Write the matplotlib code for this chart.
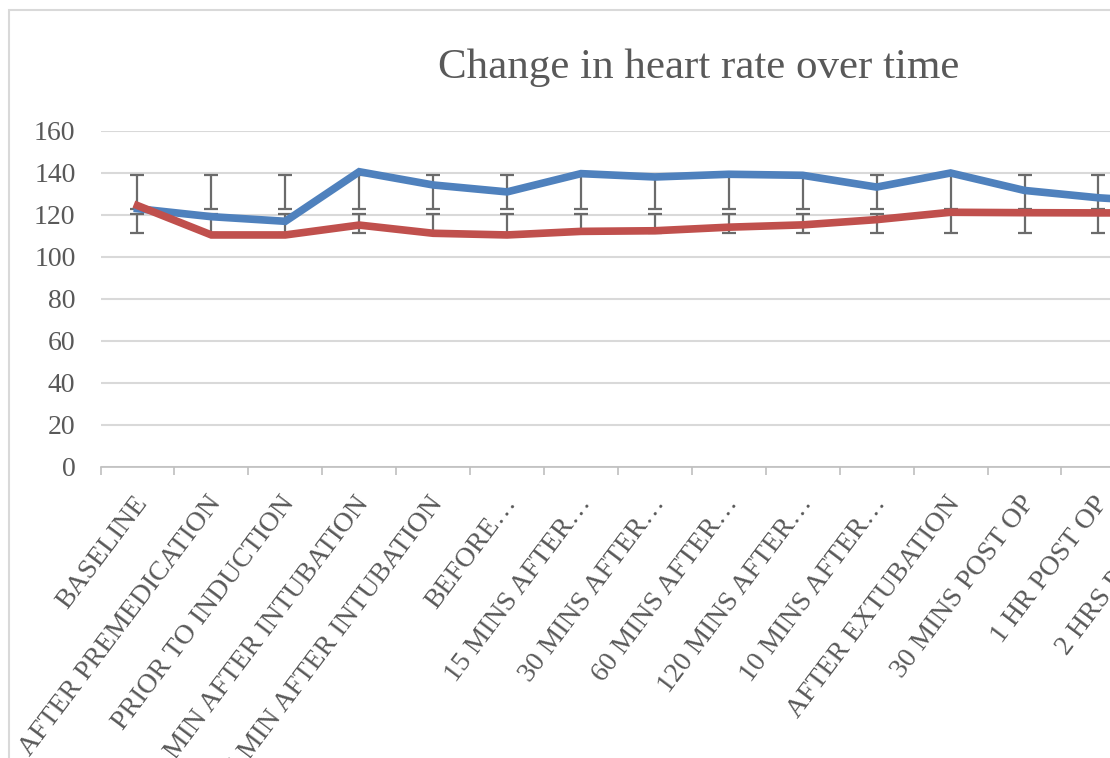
import numpy as np
import matplotlib
matplotlib.use("Agg")
import matplotlib.pyplot as plt
from matplotlib.patches import Rectangle
from matplotlib.transforms import ScaledTranslation

# time points (the original chart runs on past the right edge)
labels = ["BASELINE", "AFTER PREMEDICATION", "PRIOR TO INDUCTION",
          "1 MIN AFTER INTUBATION", "5 MIN AFTER INTUBATION", "BEFORE…",
          "15 MINS AFTER…", "30 MINS AFTER…", "60 MINS AFTER…",
          "120 MINS AFTER…", "10 MINS AFTER…", "AFTER EXTUBATION",
          "30 MINS POST OP", "1 HR POST OP", "2 HRS POST OP"]

blue_hr = [123, 119.2, 117, 140.6, 134.3, 131, 139.7, 138.1, 139.4,
           138.9, 133.3, 140, 131.7, 128.2, 126]
red_hr = [124.5, 110.5, 110.5, 115.2, 111.3, 110.5, 112.2, 112.5, 114.2,
          115.3, 117.8, 121.3, 121.1, 121, 121]

# Excel-style SD error bars drawn around the series mean
blue_err_mid, blue_err = 131.1, 8.1
red_err_mid, red_err = 116.1, 4.5

yticks = [0, 20, 40, 60, 80, 100, 120, 140, 160]

W, H = 1110, 758
fig = plt.figure(figsize=(W / 100, H / 100), dpi=100)

n = len(labels)
step = 73.92
left = 100.5
ax = fig.add_axes([left / W, (H - 467) / H, n * step / W, 336 / H])

x = np.arange(n)
grey = "#595959"

ax.errorbar(x, [blue_err_mid] * n, yerr=blue_err, fmt="none", ecolor="#6b6b6b",
            elinewidth=1.6, capsize=5, capthick=1.6, zorder=2)
ax.errorbar(x, [red_err_mid] * n, yerr=red_err, fmt="none", ecolor="#6b6b6b",
            elinewidth=1.6, capsize=5, capthick=1.6, zorder=2)
ax.plot(x, blue_hr, color="#4f81bd", lw=5.5, zorder=3, solid_joinstyle="miter")
ax.plot(x, red_hr, color="#c0504d", lw=5.5, zorder=4, solid_joinstyle="miter")

ax.set_xlim(-0.5, n - 0.5)
ax.set_ylim(0, 160)
ax.set_yticks(yticks)
ax.set_yticklabels([str(v) for v in yticks])
ax.grid(axis="y", color="#d9d9d9", lw=1.5, zorder=0)
ax.set_axisbelow(True)

ax.set_xticks(x)
ax.set_xticklabels(labels, rotation=53, ha="right", va="center",
                   rotation_mode="anchor")
ax.set_xticks(np.arange(n + 1) - 0.5, minor=True)
ax.tick_params(axis="x", which="major", length=0, pad=23, labelsize=20,
               labelcolor=grey)
ax.tick_params(axis="x", which="minor", length=6, width=1.2, color="#bfbfbf",
               direction="out")
ax.tick_params(axis="y", length=0, pad=18, labelsize=20, labelcolor=grey)

shift = ScaledTranslation(5 / 100, 0, fig.dpi_scale_trans)
for lab in ax.get_xticklabels():
    lab.set_family("Liberation Serif")
    lab.set_transform(lab.get_transform() + shift)
for lab in ax.get_yticklabels():
    lab.set_family("Liberation Serif")

for s in ["top", "right", "left"]:
    ax.spines[s].set_visible(False)
ax.spines["bottom"].set_color("#bfbfbf")
ax.spines["bottom"].set_linewidth(1.2)

fig.text(699 / W, 1 - 78 / H, "Change in heart rate over time", ha="center",
         va="baseline", fontsize=31, color=grey, family="Liberation Serif")

# chart area border
fig.patches.append(Rectangle((9 / W, -0.1), 2, 1 - 10 / H + 0.1,
                             transform=fig.transFigure, fill=False,
                             ec="#d9d9d9", lw=1.5))

fig.savefig("out.png", dpi=100)
